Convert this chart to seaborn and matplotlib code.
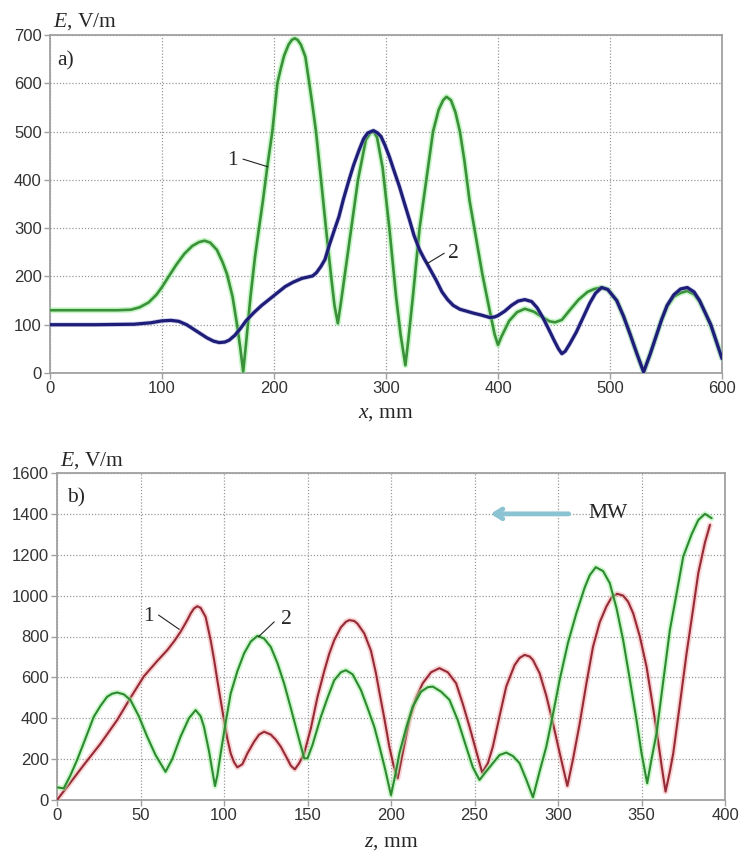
import matplotlib
matplotlib.use("Agg")
import matplotlib.pyplot as plt
import matplotlib.patheffects as pe
import seaborn as sns
import pandas as pd

# ---------------- Panel a) data ----------------
a_x_green = [0, 30, 60, 72, 80, 88, 95, 100, 106, 113, 120, 127, 133, 138, 143, 149, 154, 158, 163, 167,
             170, 172.5, 175, 179, 183, 186.6, 190, 194, 198.5, 203, 206, 209, 213, 216, 218.5, 221, 224, 228,
             231.5, 234, 237.5, 242, 246.4, 251, 254, 257, 260, 263, 269, 275, 282, 286, 289, 292, 297, 303,
             309, 313, 317.3, 320, 324, 330, 336, 342, 347, 351, 354, 358, 362, 366, 370, 374.6, 380, 386,
             392.5, 397, 400, 403, 410, 417, 424, 432, 440, 446, 451, 457, 464, 472, 480, 486, 492.5, 498,
             506, 512, 518, 524, 530, 536, 541, 546, 551, 557, 563, 569, 575, 580, 585, 590, 595, 600]
a_e_green = [130, 130, 130, 131, 136, 146, 162, 178, 200, 225, 247, 263, 271, 274, 270, 255, 230, 205, 158, 100,
             50, 3, 60, 158, 240, 300, 355, 427, 500, 600, 630, 657, 680, 690, 693, 690, 680, 655,
             600, 560, 500, 400, 300, 200, 140, 103, 150, 200, 300, 400, 483, 497, 500, 488, 425, 300,
             158, 80, 16, 70, 158, 300, 400, 500, 545, 565, 572, 565, 540, 500, 440, 357, 285, 205,
             130, 80, 58, 75, 108, 126, 133, 127, 115, 107, 105, 110, 130, 152, 168, 174, 177, 173,
             150, 118, 80, 40, 2, 40, 75, 110, 138, 158, 166, 170, 163, 148, 124, 98, 65, 30]

a_x_blue = [0, 40, 75, 90, 100, 108, 115, 122, 128, 134, 140, 146, 151, 156, 160, 165, 170, 175, 182, 189,
            195.5, 203, 210, 217, 225, 234.5, 238, 242, 245.5, 249, 253, 258, 262, 267, 271, 276, 280, 283.6,
            288.7, 292, 295.5, 299, 303, 307, 312, 316, 321, 325, 330, 334, 337, 341, 344.6, 350, 355, 360,
            366, 372, 378, 385, 392.5, 397, 400, 406, 412, 418, 424, 430, 435, 440, 445, 450, 454, 457, 460,
            464, 470, 476, 482, 487, 492.5, 498, 506, 512, 518, 524, 530, 536, 541, 546, 551, 557, 563, 569,
            575, 580, 585, 590, 595, 600]
a_e_blue = [100, 100, 101, 104, 108, 109, 107, 100, 91, 82, 73, 66, 63, 64, 68, 78, 92, 108, 125, 140,
            152, 166, 179, 188, 196, 201, 208, 221, 235, 262, 290, 324, 360, 400, 430, 462, 485, 497,
            502, 498, 490, 472, 448, 420, 386, 355, 317, 285, 255, 237, 225, 208, 193, 168, 152, 140,
            132, 128, 124, 120, 115, 116, 119, 128, 140, 149, 152, 148, 135, 115, 92, 68, 50, 40, 45,
            60, 85, 115, 145, 165, 177, 173, 150, 118, 80, 40, 2, 40, 75, 110, 140, 162, 174, 177,
            168, 150, 125, 100, 65, 30]

a_xticks = [0, 100, 200, 300, 400, 500, 600]
a_yticks = [0, 100, 200, 300, 400, 500, 600, 700]

# ---------------- Panel b) data ----------------
b_z_red = [0, 8, 16, 26, 36, 44, 52, 60, 66, 70, 74, 78, 80, 82, 84, 86, 89, 92, 94, 96, 98, 100, 102, 104,
           106, 108, 111, 114, 118, 121, 124, 128, 131, 134, 138, 140, 142.4, 145, 148, 152, 156, 160, 163,
           166, 170, 173, 175, 178, 180, 184, 188, 191, 193, 196, 199, 201.5, 204, 207, 211, 215, 219, 224,
           229, 234, 239, 243, 247, 251, 254.6, 258, 261, 265, 269, 274, 277, 280, 283, 285, 289, 293, 297,
           301, 305.6, 309, 313, 317, 321, 325, 329, 332, 335.4, 339, 342, 345, 349, 353, 356, 359, 362,
           364.4, 367, 369, 373, 377, 381, 384, 388, 391]
b_e_red = [0, 85, 171, 275, 391, 500, 605, 680, 733, 775, 823, 880, 912, 937, 948, 940, 896, 782, 690, 586,
           488, 391, 300, 228, 185, 160, 175, 228, 285, 320, 334, 320, 295, 261, 200, 168, 150, 180, 228,
           350, 505, 630, 715, 782, 845, 872, 880, 876, 862, 815, 730, 620, 530, 400, 261, 170, 106, 230,
           392, 500, 571, 625, 645, 625, 571, 470, 359, 240, 134, 180, 261, 410, 555, 660, 695, 710, 702,
           685, 620, 510, 375, 230, 69, 200, 375, 570, 751, 870, 947, 990, 1009, 1000, 970, 914, 800,
           653, 500, 343, 170, 41, 140, 228, 470, 718, 940, 1110, 1260, 1346]

b_z_green = [0, 4, 8, 12, 17, 22, 26, 30, 33, 36, 40, 44, 49, 54, 59, 65, 69, 74, 79, 83, 86, 88, 91, 94.6,
             96, 98, 101, 104, 108, 112, 116, 120, 124, 128, 132, 136, 140, 144, 148, 150, 153, 158, 162,
             166, 170, 173, 177, 182, 186, 190, 193, 196.5, 200, 203, 205, 209, 213, 218, 222, 225, 230, 235,
             240, 245, 249, 253, 257, 261, 265, 269, 273, 277, 281, 285, 289, 293, 297, 301, 306, 311, 316,
             319, 322.6, 327, 331, 335, 339, 343, 347, 350, 353.4, 356, 359, 363, 367, 371, 375, 380, 384,
             388, 392]
b_e_green = [62, 57, 120, 195, 300, 407, 460, 505, 520, 526, 517, 489, 410, 310, 220, 138, 200, 310, 400,
             440, 410, 358, 240, 68, 120, 228, 380, 521, 630, 717, 775, 803, 790, 749, 670, 570, 450, 326,
             204, 204, 270, 407, 500, 586, 625, 635, 615, 538, 450, 358, 265, 150, 24, 140, 228, 350, 457,
             530, 552, 555, 530, 490, 390, 261, 160, 98, 140, 180, 220, 232, 215, 180, 100, 13, 140, 261,
             420, 588, 770, 914, 1040, 1100, 1139, 1120, 1061, 940, 783, 590, 392, 230, 82, 200, 326, 580,
             832, 1010, 1191, 1300, 1370, 1400, 1379]

b_xticks = [0, 50, 100, 150, 200, 250, 300, 350, 400]
b_yticks = [0, 200, 400, 600, 800, 1000, 1200, 1400, 1600]

# ---------------- style ----------------
sns.set_style("white")
plt.rcParams["font.family"] = ["Liberation Sans", "DejaVu Sans"]
plt.rcParams["mathtext.fontset"] = "custom"
plt.rcParams["mathtext.rm"] = "Liberation Serif"
plt.rcParams["mathtext.it"] = "Liberation Serif:italic"

SERIF = ["Liberation Serif", "DejaVu Serif"]
SPINE = "#a0a0a0"
TXT = 15.5

fig = plt.figure(figsize=(7.41, 8.52), dpi=100)
ax_a = fig.add_axes([50 / 741, 1 - 373 / 852, 672 / 741, 338 / 852])
ax_b = fig.add_axes([57 / 741, 1 - 800 / 852, 668 / 741, 327 / 852])


def glow(color, width):
    return [pe.Stroke(linewidth=width, foreground=color, alpha=0.5), pe.Normal()]


df_ag = pd.DataFrame({"x": a_x_green, "E": a_e_green})
df_ab = pd.DataFrame({"x": a_x_blue, "E": a_e_blue})
sns.lineplot(data=df_ag, x="x", y="E", ax=ax_a, color="#3a913a", linewidth=1.9,
             estimator=None, sort=False, path_effects=glow("#90ee90", 4.2), zorder=3)
sns.lineplot(data=df_ab, x="x", y="E", ax=ax_a, color="#1e1e78", linewidth=2.3,
             estimator=None, sort=False, path_effects=glow("#a0a0d8", 3.4), zorder=4)

df_br = pd.DataFrame({"z": b_z_red, "E": b_e_red})
df_bg = pd.DataFrame({"z": b_z_green, "E": b_e_green})
sns.lineplot(data=df_br, x="z", y="E", ax=ax_b, color="#962a36", linewidth=1.5,
             estimator=None, sort=False, path_effects=glow("#f3a8a8", 4.0), zorder=3)
sns.lineplot(data=df_bg, x="z", y="E", ax=ax_b, color="#2e8a30", linewidth=1.5,
             estimator=None, sort=False, path_effects=glow("#9ff09f", 4.0), zorder=4)


def style(ax, xt, yt):
    ax.set_xlim(xt[0], xt[-1])
    ax.set_ylim(yt[0], yt[-1])
    ax.set_xticks(xt)
    ax.set_yticks(yt)
    ax.set_xlabel("")
    ax.set_ylabel("")
    ax.grid(True, linestyle=(0, (1, 1.5)), color="#9a9a9a", linewidth=0.9)
    ax.set_axisbelow(True)
    for s in ax.spines.values():
        s.set_color(SPINE)
        s.set_linewidth(1.3)
    ax.tick_params(axis="both", direction="out", length=4, width=1, color=SPINE,
                   labelsize=12, labelcolor="#333333", pad=2,
                   bottom=True, left=True)


style(ax_a, a_xticks, a_yticks)
style(ax_b, b_xticks, b_yticks)

# axis titles
for ax, ylab_y, xlab_y, name in [(ax_a, 1.024, -0.133, "x"), (ax_b, 1.024, -0.141, "z")]:
    ax.text(0.004, ylab_y, r"$\mathit{E}$, V/m", transform=ax.transAxes, fontsize=TXT,
            family=SERIF, ha="left", va="baseline")
    ax.text(0.5, xlab_y, r"$\mathit{%s}$, mm" % name, transform=ax.transAxes, fontsize=TXT,
            family=SERIF, ha="center", va="baseline")

ax_a.text(0.0104, 0.911, "a)", transform=ax_a.transAxes, fontsize=TXT, family=SERIF,
          ha="left", va="baseline")
ax_b.text(0.015, 0.911, "b)", transform=ax_b.transAxes, fontsize=TXT, family=SERIF,
          ha="left", va="baseline")


# curve labels with leader lines
def label(ax, txt, tx, ty, x0, y0, x1, y1):
    ax.text(tx, ty, txt, fontsize=TXT, family=SERIF, ha="center", va="center", zorder=6)
    ax.plot([x0, x1], [y0, y1], color="#222222", linewidth=0.8, zorder=6)


label(ax_a, "1", 163, 441, 172.3, 443, 194.6, 427)
label(ax_a, "2", 360, 248, 336.3, 226, 352, 248)
label(ax_b, "1", 54.5, 900, 60.8, 905, 73.2, 835)
label(ax_b, "2", 137.5, 881, 130.1, 872, 120.7, 799)

# MW arrow
ax_b.annotate("", xy=(258, 1400), xytext=(308, 1400),
              arrowprops=dict(arrowstyle="->,head_length=0.55,head_width=0.35",
                              color="#8cc3d3", linewidth=3.5), zorder=6)
ax_b.text(330, 1400, "MW", fontsize=TXT, family=SERIF, ha="center", va="center", zorder=6)

fig.savefig("out.png", dpi=100, facecolor="white")
